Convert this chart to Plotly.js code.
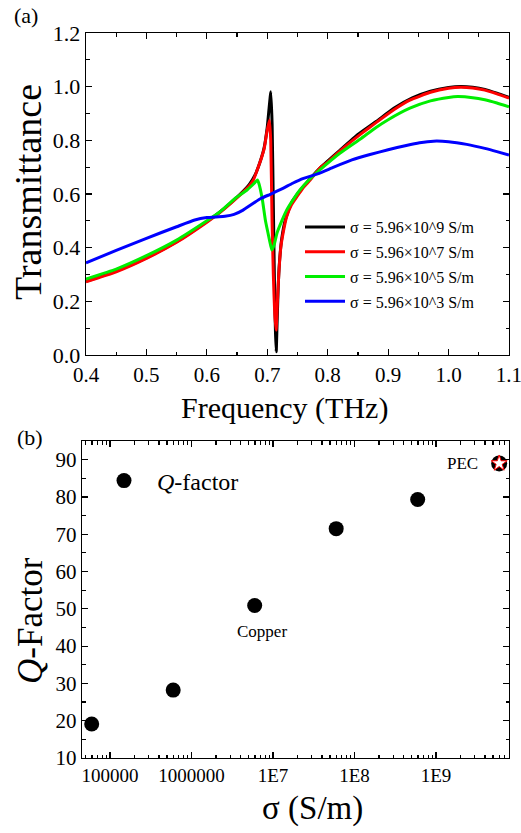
<!DOCTYPE html>
<html><head><meta charset="utf-8">
<script src="https://cdn.plot.ly/plotly-3.0.1.min.js"></script>
<style>html,body{margin:0;padding:0;background:#fff}#chart{width:521px;height:833px}</style>
</head><body><div id="chart"></div><script>
// ---- Panel (a): transmittance spectra ----
const seriesNames = ['σ = 5.96×10^9 S/m','σ = 5.96×10^7 S/m','σ = 5.96×10^5 S/m','σ = 5.96×10^3 S/m'];
const seriesColors = ['#000000','#ff0000','#00ee00','#0000ff'];

const freqBlack = [0.40,0.45,0.50,0.55,0.60,0.62,0.64,0.66,0.67,0.68,0.69,0.695,0.70,0.703,0.7058,0.708,0.710,0.712,0.7135,0.7148,0.716,0.718,0.72,0.724,0.73,0.74,0.75,0.77,0.79,0.82,0.85,0.88,0.91,0.94,0.97,1.00,1.02,1.04,1.06,1.08,1.10];
const transBlack = [0.275,0.313,0.362,0.422,0.497,0.530,0.568,0.610,0.635,0.672,0.733,0.775,0.850,0.920,0.981,0.860,0.560,0.250,0.090,0.012,0.100,0.250,0.340,0.435,0.505,0.567,0.600,0.655,0.703,0.763,0.822,0.870,0.920,0.958,0.983,0.997,1.001,0.998,0.990,0.976,0.960];

const freqRed = [0.40,0.45,0.50,0.55,0.60,0.62,0.64,0.66,0.67,0.677,0.685,0.691,0.695,0.699,0.7035,0.7057,0.7079,0.710,0.7124,0.7146,0.7168,0.719,0.7223,0.7267,0.732,0.74,0.749,0.76,0.771,0.787,0.80,0.82,0.854,0.88,0.91,0.936,0.97,1.00,1.02,1.04,1.06,1.08,1.10];
const transRed = [0.273,0.310,0.360,0.420,0.495,0.528,0.566,0.607,0.630,0.652,0.700,0.739,0.770,0.827,0.876,0.800,0.500,0.300,0.150,0.093,0.200,0.300,0.400,0.460,0.515,0.560,0.590,0.625,0.652,0.697,0.719,0.760,0.822,0.866,0.915,0.950,0.979,0.994,0.998,0.995,0.987,0.973,0.957];

const freqGreen = [0.40,0.45,0.50,0.55,0.60,0.622,0.647,0.6665,0.6785,0.6836,0.686,0.6918,0.697,0.7035,0.7074,0.7113,0.716,0.724,0.732,0.744,0.754,0.77,0.787,0.82,0.854,0.88,0.90,0.936,0.97,1.00,1.015,1.04,1.06,1.08,1.10];
const transGreen = [0.283,0.320,0.370,0.428,0.500,0.534,0.584,0.615,0.640,0.652,0.640,0.580,0.500,0.430,0.391,0.410,0.454,0.500,0.540,0.583,0.615,0.655,0.690,0.752,0.805,0.848,0.877,0.920,0.947,0.960,0.963,0.959,0.951,0.939,0.925];

const freqBlue = [0.40,0.45,0.50,0.55,0.58,0.60,0.62,0.63,0.645,0.66,0.67,0.68,0.69,0.705,0.725,0.742,0.76,0.786,0.81,0.84,0.87,0.90,0.93,0.952,0.975,1.00,1.03,1.06,1.08,1.10];
const transBlue = [0.343,0.390,0.435,0.478,0.503,0.512,0.515,0.517,0.524,0.540,0.555,0.570,0.584,0.599,0.620,0.640,0.658,0.677,0.700,0.727,0.747,0.765,0.781,0.791,0.797,0.795,0.785,0.770,0.758,0.745];

// ---- Panel (b): Q-factor vs conductivity ----
const sigmaVals = [5.96e4, 5.96e5, 5.96e6, 5.96e7, 5.96e8];
const qVals = [19.1, 28.2, 50.9, 71.5, 79.3];
const pecSigma = [5.96e9];
const pecQ = [89.0];
const sigmaTickVals = [1e5, 1e6, 1e7, 1e8, 1e9];
const sigmaTickText = ['100000','1000000','1E7','1E8','1E9'];

const FONT = 'Liberation Serif, Times New Roman, Times, serif';

const xs = [freqBlack, freqRed, freqGreen, freqBlue];
const ys = [transBlack, transRed, transGreen, transBlue];
const traces = xs.map((x, i) => ({
  type: 'scatter', mode: 'lines', x: x, y: ys[i], name: seriesNames[i],
  line: {color: seriesColors[i], width: 3, shape: 'spline', smoothing: 0.4},
  xaxis: 'x', yaxis: 'y', legend: 'legend', legendgroup: 'g' + i
}));

traces.push({
  type: 'scatter', mode: 'markers', x: sigmaVals, y: qVals, name: '<i>Q</i>-factor',
  marker: {color: '#000', size: 15, symbol: 'circle'},
  xaxis: 'x2', yaxis: 'y2', legend: 'legend2'
});
traces.push({
  type: 'scatter', mode: 'markers', x: pecSigma, y: pecQ, showlegend: false,
  marker: {color: '#000', size: 16, symbol: 'circle'}, xaxis: 'x2', yaxis: 'y2'
});
traces.push({
  type: 'scatter', mode: 'markers', x: pecSigma, y: pecQ, showlegend: false,
  marker: {color: '#fff', size: 12, symbol: 'star', line: {color: '#ff0000', width: 1}},
  xaxis: 'x2', yaxis: 'y2'
});

const axBase = {
  showline: true, linecolor: '#000', linewidth: 1.3, mirror: 'ticks',
  ticks: 'inside', ticklen: 6, tickwidth: 1.2, tickcolor: '#000',
  showgrid: false, zeroline: false, fixedrange: true, ticklabeloverflow: 'allow'
};
const minorBase = {ticks: 'inside', ticklen: 3.5, tickwidth: 1.2, tickcolor: '#000', showgrid: false};

const layout = {
  width: 521, height: 833,
  margin: {l: 0, r: 0, t: 0, b: 0},
  paper_bgcolor: '#fff', plot_bgcolor: '#fff',
  font: {family: FONT, color: '#000'},
  xaxis: Object.assign({}, axBase, {
    domain: [86/521, 509/521], anchor: 'y', range: [0.4, 1.10001],
    tick0: 0.4, dtick: 0.1, tickformat: '.1f', tickfont: {size: 21, family: FONT},
    minor: Object.assign({}, minorBase, {dtick: 0.05})
  }),
  yaxis: Object.assign({}, axBase, {
    domain: [1 - 355/833, 1 - 33/833], anchor: 'x', range: [0, 1.2],
    tick0: 0, dtick: 0.2, tickformat: '.1f', tickfont: {size: 22, family: FONT},
    minor: Object.assign({}, minorBase, {dtick: 0.1})
  }),
  xaxis2: Object.assign({}, axBase, {
    type: 'log', domain: [82/521, 509/521], anchor: 'y2', range: [4.6564, 9.8957],
    tickmode: 'array', tickvals: sigmaTickVals, ticktext: sigmaTickText,
    tickfont: {size: 19, family: FONT},
    minor: Object.assign({}, minorBase, {dtick: 'D1'})
  }),
  yaxis2: Object.assign({}, axBase, {
    domain: [1 - 758/833, 1 - 441/833], anchor: 'x2', range: [10, 95],
    tick0: 10, dtick: 10, tickfont: {size: 21, family: FONT},
    minor: Object.assign({}, minorBase, {dtick: 5})
  }),
  legend: {
    x: 300/521, y: 1 - 210/833, xanchor: 'left', yanchor: 'top',
    bgcolor: 'rgba(0,0,0,0)', font: {size: 16, family: FONT},
    traceorder: 'grouped', tracegroupgap: 1, itemwidth: 40
  },
  legend2: {
    x: 91/521, y: 1 - 481/833, xanchor: 'left', yanchor: 'middle',
    bgcolor: 'rgba(0,0,0,0)', font: {size: 24, family: FONT}, itemwidth: 56
  },
  annotations: [
    {text: '(a)', x: 26/521, y: 1 - 16/833, xref: 'paper', yref: 'paper', showarrow: false, xanchor: 'center', yanchor: 'middle', font: {size: 22}},
    {text: '(b)', x: 30/521, y: 1 - 437/833, xref: 'paper', yref: 'paper', showarrow: false, xanchor: 'center', yanchor: 'middle', font: {size: 22}},
    {text: 'Frequency (THz)', x: 284/521, y: 1 - 408/833, xref: 'paper', yref: 'paper', showarrow: false, xanchor: 'center', yanchor: 'middle', font: {size: 30}},
    {text: 'Transmittance', x: 28/521, y: 1 - 192/833, xref: 'paper', yref: 'paper', showarrow: false, xanchor: 'center', yanchor: 'middle', textangle: -90, font: {size: 38}},
    {text: 'σ (S/m)', x: 312/521, y: 1 - 808/833, xref: 'paper', yref: 'paper', showarrow: false, xanchor: 'center', yanchor: 'middle', font: {size: 33}},
    {text: '<i>Q</i>-Factor', x: 30/521, y: 1 - 621/833, xref: 'paper', yref: 'paper', showarrow: false, xanchor: 'center', yanchor: 'middle', textangle: -90, font: {size: 35}},
    {text: 'Copper', x: 262/521, y: 1 - 631/833, xref: 'paper', yref: 'paper', showarrow: false, xanchor: 'center', yanchor: 'middle', font: {size: 17}},
    {text: 'PEC', x: 462/521, y: 1 - 463/833, xref: 'paper', yref: 'paper', showarrow: false, xanchor: 'center', yanchor: 'middle', font: {size: 17}}
  ]
};

Plotly.newPlot('chart', traces, layout, {displayModeBar: false, staticPlot: true});
</script></body></html>
